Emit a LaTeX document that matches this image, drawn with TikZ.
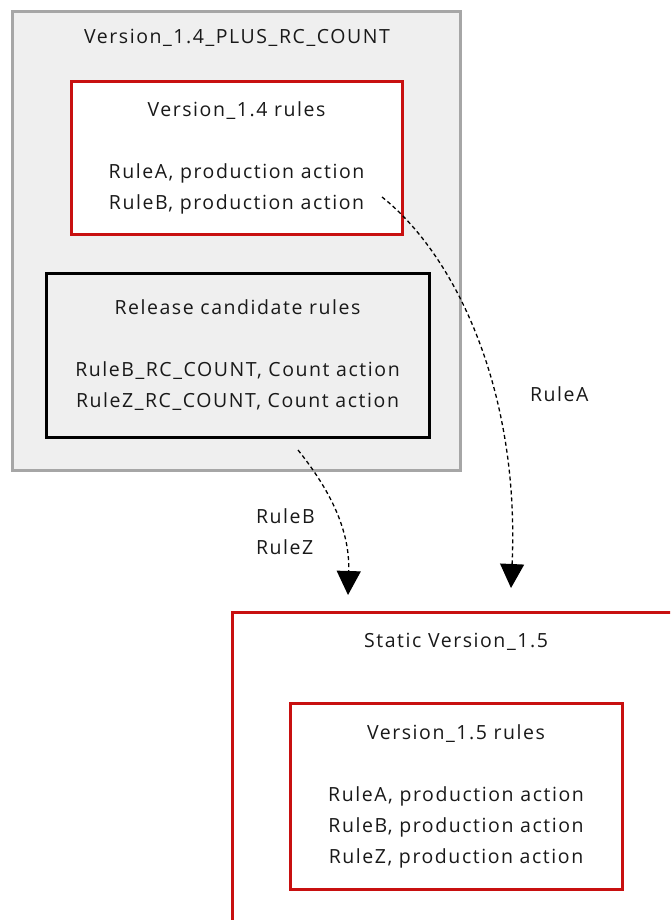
\documentclass[tikz,border=0pt]{standalone}
\usepackage{fontspec}
\setmainfont[LetterSpace=8]{Open Sans}
\usetikzlibrary{arrows.meta}
\definecolor{boxred}{RGB}{200,16,16}
\definecolor{boxgray}{RGB}{239,239,239}
\definecolor{edgegray}{RGB}{166,166,166}
\definecolor{txt}{RGB}{25,25,25}
\tikzset{
  every node/.style={text=txt, font=\fontsize{19.5}{31}\selectfont, inner sep=0pt, outer sep=0pt},
  graybox/.style={draw=edgegray, fill=boxgray, line width=3pt, rectangle},
  redbox/.style={draw=boxred, fill=white, line width=3pt, rectangle, align=center},
  blackbox/.style={draw=black, fill=boxgray, line width=3pt, rectangle, align=center},
  flow/.style={line width=1.3pt, dash pattern=on 4pt off 3pt, -{Triangle[length=24pt,width=24pt]}},
  lbl/.style={align=left}
}
\begin{document}
\begin{tikzpicture}[x=1pt,y=-1pt]
\useasboundingbox (0,0) rectangle (670,920);
\clip (0,0) rectangle (670,920);
% outer container
\node[graybox, minimum width=448, minimum height=458] (outer) at (236,241) {};
\node[anchor=base] (outertitle) at (237,44) {Version\_1.4\_PLUS\_RC\_COUNT};
\node[redbox, minimum width=331, minimum height=152] (v14) at (236.5,158)
  {Version\_1.4 rules\\[31pt]RuleA, production action\\RuleB, production action};
\node[blackbox, minimum width=383, minimum height=164] (rc) at (237.5,355)
  {Release candidate rules\\[31pt]RuleB\_RC\_COUNT, Count action\\RuleZ\_RC\_COUNT, Count action};
% static version box (extends beyond the page)
\node[draw=boxred, line width=3pt, minimum width=600, minimum height=500] (static) at (532,862) {};
\node[anchor=base] (statictitle) at (456,647) {Static Version\_1.5};
\node[redbox, minimum width=332, minimum height=186] (v15) at (456,796)
  {Version\_1.5 rules\\[31pt]RuleA, production action\\RuleB, production action\\RuleZ, production action};
% connectors
\coordinate (a1s) at (382,197);
\coordinate (a1e) at (511,588);
\coordinate (a2s) at (298,450);
\coordinate (a2e) at (348,595);
\draw[flow] (a1s) .. controls (455,255) and (520,390) .. (a1e);
\draw[flow] (a2s) .. controls (330,490) and (350,530) .. (a2e);
\node[lbl, anchor=base west] (labA) at (530,401) {RuleA};
\node[lbl, anchor=base west] (labBZ) at (256,554) {RuleB\\RuleZ};
\end{tikzpicture}
\end{document}
